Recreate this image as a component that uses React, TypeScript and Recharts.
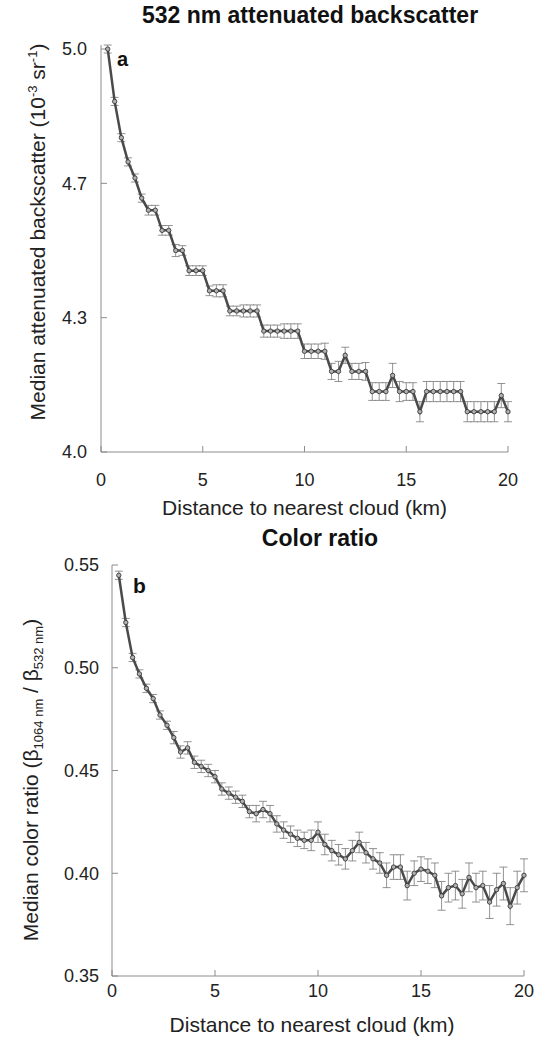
import React from 'react';
import { LineChart, Line, XAxis, YAxis, ErrorBar } from 'recharts';

const distanceKm = [
  0.33, 0.67, 1.0, 1.33, 1.67, 2.0, 2.33, 2.67, 3.0, 3.33,
  3.67, 4.0, 4.33, 4.67, 5.0, 5.33, 5.67, 6.0, 6.33, 6.67,
  7.0, 7.33, 7.67, 8.0, 8.33, 8.67, 9.0, 9.33, 9.67, 10.0,
  10.33, 10.67, 11.0, 11.33, 11.67, 12.0, 12.33, 12.67, 13.0, 13.33,
  13.67, 14.0, 14.33, 14.67, 15.0, 15.33, 15.67, 16.0, 16.33, 16.67,
  17.0, 17.33, 17.67, 18.0, 18.33, 18.67, 19.0, 19.33, 19.67, 20.0,
];

// median attenuated backscatter at 532 nm (10^-3 sr^-1)
const backscatter = [
  5.0, 4.87, 4.78, 4.72, 4.68, 4.63, 4.6, 4.6, 4.55, 4.55,
  4.5, 4.5, 4.45, 4.45, 4.45, 4.4, 4.4, 4.4, 4.35, 4.35,
  4.35, 4.35, 4.35, 4.3, 4.3, 4.3, 4.3, 4.3, 4.3, 4.25,
  4.25, 4.25, 4.25, 4.2, 4.2, 4.24, 4.2, 4.2, 4.2, 4.15,
  4.15, 4.15, 4.19, 4.15, 4.15, 4.15, 4.1, 4.15, 4.15, 4.15,
  4.15, 4.15, 4.15, 4.1, 4.1, 4.1, 4.1, 4.1, 4.14, 4.1,
];
const backscatterErr = [
  0.01, 0.01, 0.01, 0.01, 0.01, 0.01, 0.012, 0.012, 0.012, 0.012,
  0.015, 0.012, 0.012, 0.012, 0.012, 0.012, 0.015, 0.015, 0.012, 0.012,
  0.015, 0.015, 0.015, 0.015, 0.015, 0.015, 0.018, 0.018, 0.018, 0.018,
  0.018, 0.018, 0.02, 0.02, 0.025, 0.02, 0.02, 0.02, 0.022, 0.022,
  0.022, 0.022, 0.03, 0.025, 0.022, 0.022, 0.025, 0.025, 0.025, 0.025,
  0.025, 0.025, 0.025, 0.025, 0.025, 0.025, 0.025, 0.025, 0.03, 0.025,
];

// median color ratio beta1064 / beta532
const colorRatio = [
  0.545, 0.522, 0.505, 0.497, 0.49, 0.485, 0.477, 0.472, 0.466, 0.459,
  0.461, 0.454, 0.452, 0.45, 0.447, 0.441, 0.439, 0.437, 0.435, 0.43,
  0.429, 0.431, 0.429, 0.424, 0.421, 0.419, 0.417, 0.416, 0.416, 0.42,
  0.414, 0.411, 0.409, 0.407, 0.411, 0.415, 0.41, 0.407, 0.405, 0.399,
  0.403, 0.403, 0.394, 0.4, 0.402, 0.401, 0.399, 0.389, 0.393, 0.394,
  0.39, 0.398, 0.393, 0.394, 0.386, 0.392, 0.395, 0.384, 0.393, 0.399,
];
const colorRatioErr = [
  0.002, 0.002, 0.002, 0.002, 0.002, 0.002, 0.002, 0.002, 0.003, 0.003,
  0.003, 0.003, 0.003, 0.003, 0.003, 0.003, 0.003, 0.003, 0.003, 0.003,
  0.004, 0.004, 0.004, 0.004, 0.004, 0.004, 0.004, 0.004, 0.005, 0.005,
  0.005, 0.005, 0.005, 0.005, 0.005, 0.005, 0.005, 0.005, 0.005, 0.006,
  0.006, 0.006, 0.007, 0.006, 0.006, 0.006, 0.006, 0.007, 0.007, 0.007,
  0.007, 0.007, 0.007, 0.007, 0.008, 0.008, 0.008, 0.009, 0.008, 0.008,
];

const xTicks = [0, 5, 10, 15, 20];
const backscatterTicks = [4.0, 4.3333, 4.6667, 5.0];
const colorRatioTicks = [0.35, 0.4, 0.45, 0.5, 0.55];

const topData = distanceKm.map((d, i) => ({ d, v: backscatter[i], err: backscatterErr[i] }));
const bottomData = distanceKm.map((d, i) => ({ d, v: colorRatio[i], err: colorRatioErr[i] }));

const FONT = '"Liberation Sans", Arial, Helvetica, sans-serif';
const FRAME = '#8c8c8c';
const tickStyle = { fontSize: 18, fill: '#222', fontFamily: FONT };

const Blank = () => <g />;

const dotStyle = { r: 2.2, fill: '#b0b0b0', stroke: '#3a3a3a', strokeWidth: 0.9 };

export default function App() {
  return (
    <div style={{ position: 'absolute', left: 0, top: 0, width: 534, height: 1047, background: '#fff', fontFamily: FONT }}>
      {/* panel a */}
      <div style={{ position: 'absolute', left: 0, top: 2, width: 620, textAlign: 'center', fontSize: 23, fontWeight: 'bold', color: '#111' }}>
        532 nm attenuated backscatter
      </div>
      <div style={{ position: 'absolute', left: 0, top: 0 }}>
        <LineChart width={534} height={530} data={topData} margin={{ top: 45, right: 26, bottom: 8, left: 30 }}>
          <XAxis
            dataKey="d" type="number" domain={[0, 20]} ticks={xTicks}
            stroke={FRAME} tickSize={-6} tickMargin={27} height={70}
            tick={tickStyle}
            label={{ value: 'Distance to nearest cloud (km)', position: 'insideBottom', offset: 7, style: { fontSize: 21, fill: '#222', fontFamily: FONT } }}
          />
          <XAxis xAxisId="top" orientation="top" dataKey="d" type="number" domain={[0, 20]} ticks={xTicks}
            stroke={FRAME} tickSize={-6} height={0} tick={Blank} />
          <YAxis
            type="number" domain={[4, 5]} ticks={backscatterTicks} width={71}
            stroke={FRAME} tickSize={-6} tickMargin={20}
            tick={tickStyle} tickFormatter={(v: number) => v.toFixed(1)}
          />
          <YAxis yAxisId="right" orientation="right" type="number" domain={[4, 5]} ticks={backscatterTicks}
            stroke={FRAME} tickSize={-6} width={0} tick={Blank} />
          <Line dataKey="v" stroke="#4a4a4a" strokeWidth={2.5} dot={dotStyle} isAnimationActive={false}>
            <ErrorBar dataKey="err" width={4} stroke="#777" strokeWidth={0.8} direction="y" />
          </Line>
        </LineChart>
      </div>
      <div style={{ position: 'absolute', left: 117, top: 48, fontSize: 20, fontWeight: 'bold', color: '#111' }}>a</div>
      <div style={{ position: 'absolute', left: 33 - 250, top: 232 - 13, width: 500, height: 26, lineHeight: '26px', textAlign: 'center', transform: 'rotate(-90deg)', fontSize: 21, color: '#222', whiteSpace: 'nowrap' }}>
        Median attenuated backscatter (10<sup style={{ fontSize: 13 }}>-3</sup> sr<sup style={{ fontSize: 13 }}>-1</sup>)
      </div>

      {/* panel b */}
      <div style={{ position: 'absolute', left: 0, top: 525, width: 640, textAlign: 'center', fontSize: 23, fontWeight: 'bold', color: '#111' }}>
        Color ratio
      </div>
      <div style={{ position: 'absolute', left: 0, top: 525 }}>
        <LineChart width={534} height={522} data={bottomData} margin={{ top: 40, right: 10, bottom: 1, left: 41 }}>
          <XAxis
            dataKey="d" type="number" domain={[0, 20]} ticks={xTicks}
            stroke={FRAME} tickSize={-6} tickMargin={14} height={70}
            tick={tickStyle}
            label={{ value: 'Distance to nearest cloud (km)', position: 'insideBottom', offset: 14, dx: -6, style: { fontSize: 21, fill: '#222', fontFamily: FONT } }}
          />
          <XAxis xAxisId="top" orientation="top" dataKey="d" type="number" domain={[0, 20]} ticks={xTicks}
            stroke={FRAME} tickSize={-6} height={0} tick={Blank} />
          <YAxis
            type="number" domain={[0.35, 0.55]} ticks={colorRatioTicks} width={71}
            stroke={FRAME} tickSize={-6} tickMargin={19}
            tick={tickStyle} tickFormatter={(v: number) => v.toFixed(2)}
          />
          <YAxis yAxisId="right" orientation="right" type="number" domain={[0.35, 0.55]} ticks={colorRatioTicks}
            stroke={FRAME} tickSize={-6} width={0} tick={Blank} />
          <Line dataKey="v" stroke="#4a4a4a" strokeWidth={2.5} dot={dotStyle} isAnimationActive={false}>
            <ErrorBar dataKey="err" width={4} stroke="#777" strokeWidth={0.8} direction="y" />
          </Line>
        </LineChart>
      </div>
      <div style={{ position: 'absolute', left: 133, top: 574, fontSize: 21, fontWeight: 'bold', color: '#111' }}>b</div>
      <div style={{ position: 'absolute', left: 31 - 250, top: 780 - 13, width: 500, height: 26, lineHeight: '26px', textAlign: 'center', transform: 'rotate(-90deg)', fontSize: 21, color: '#222', whiteSpace: 'nowrap' }}>
        Median color ratio (β<sub style={{ fontSize: 13 }}>1064 nm</sub> / β<sub style={{ fontSize: 13 }}>532 nm</sub>)
      </div>
    </div>
  );
}
